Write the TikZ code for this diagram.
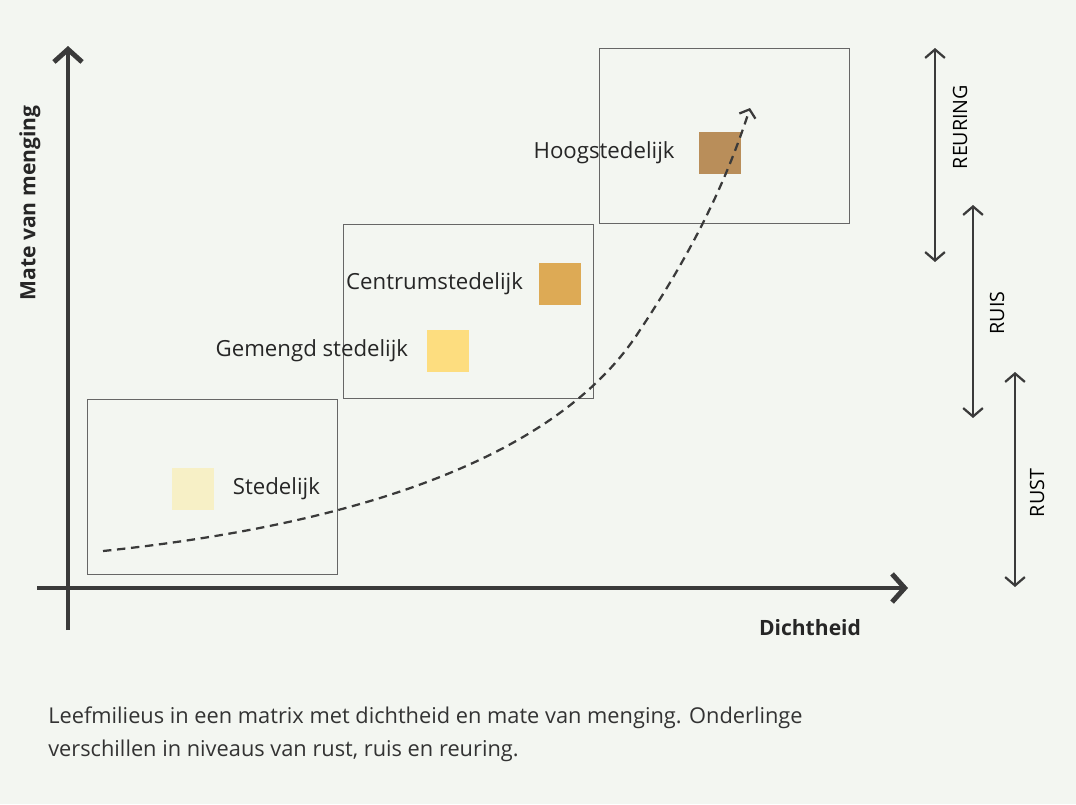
\documentclass[tikz,border=0pt]{standalone}
\usepackage{fontspec}
\setmainfont{Open Sans}
\usetikzlibrary{arrows.meta,positioning}
\definecolor{bgcol}{HTML}{F3F6F1}
\definecolor{axcol}{HTML}{3A3A3A}
\definecolor{stedcol}{HTML}{F7F0C6}
\definecolor{gemcol}{HTML}{FDDD7F}
\definecolor{centcol}{HTML}{DDAA55}
\definecolor{hoogcol}{HTML}{B98E5A}
\tikzset{
 axis/.style={line width=3.5pt, draw=axcol, -{Straight Barb[length=9pt,width=20pt,line width=3.5pt]}},
 zone/.style={draw=gray!80!black, line width=0.6pt},
 swatch/.style={minimum size=1.05cm, inner sep=0pt},
 lbl/.style={font=\fontsize{15.8}{18}\selectfont, text=black!85, inner sep=0pt},
 level/.style={line width=1.6pt, draw=axcol, {Straight Barb[length=6pt,width=14pt,line width=1.6pt]}-{Straight Barb[length=6pt,width=14pt,line width=1.6pt]}},
 lvllbl/.style={font=\fontsize{14}{16}\selectfont, rotate=90, inner sep=0pt}
}
\begin{document}
\begin{tikzpicture}[x=0.025cm, y=-0.025cm]
 \fill[bgcol] (0,0) rectangle (1076,804);
 \useasboundingbox (0,0) rectangle (1076,804);
% axes
 \coordinate (ybot) at (68,630);
 \coordinate (ytop) at (68,46);
 \coordinate (xleft) at (37,588);
 \coordinate (xright) at (908,588);
 \draw[axis] (ybot) -- (ytop);
 \draw[axis] (xleft) -- (xright);
 \node[lbl, font=\bfseries\fontsize{15}{17}\selectfont, rotate=90] (yl) at (30,203) {Mate van menging};
 \node[lbl, font=\bfseries\fontsize{15}{17}\selectfont] (xl) at (810,628) {Dichtheid};
% zones
 \draw[zone] (87,399) rectangle (337,574);
 \draw[zone] (343,224) rectangle (593,398);
 \draw[zone] (599,48) rectangle (849,223);
% milieus
 \node[swatch, fill=stedcol] (sted) at (193,489) {};
 \node[lbl, right=13pt of sted] (stedl) {Stedelijk};
 \node[swatch, fill=gemcol] (gem) at (448,351) {};
 \node[lbl, left=13pt of gem] (geml) {Gemengd stedelijk};
 \node[swatch, fill=centcol] (cent) at (560,284) {};
 \node[lbl, left=11pt of cent] (centl) {Centrumstedelijk};
 \node[swatch, fill=hoogcol] (hoog) at (720,153) {};
 \node[lbl, left=17pt of hoog] (hoogl) {Hoogstedelijk};
% trend
 \coordinate (tstart) at (103,551);
 \coordinate (tend) at (750,108);
 \draw[line width=1.6pt, axcol, dash pattern=on 6pt off 4pt, -{Straight Barb[length=5pt,width=12pt,line width=1.6pt]}]
  (tstart) .. controls (400,520) and (570,440) .. (640,330)
  .. controls (700,240) and (730,170) .. (tend);
% levels
 \coordinate (r1a) at (935,48); \coordinate (r1b) at (935,262);
 \coordinate (r2a) at (973,205); \coordinate (r2b) at (973,418);
 \coordinate (r3a) at (1015,372); \coordinate (r3b) at (1015,587);
 \draw[level] (r1a) -- (r1b);
 \draw[level] (r2a) -- (r2b);
 \draw[level] (r3a) -- (r3b);
 \node[lvllbl] (reuring) at (960,127) {REURING};
 \node[lvllbl] (ruis) at (997,313) {RUIS};
 \node[lvllbl] (rust) at (1037,493) {RUST};
% caption
 \node[anchor=north west, align=left, font=\fontsize{15.5}{23}\selectfont, text=black!80, inner sep=0pt] (cap) at (48,707)
  {Leefmilieus in een matrix met dichtheid en mate van menging. Onderlinge\\verschillen in niveaus van rust, ruis en reuring.};
\end{tikzpicture}
\end{document}
